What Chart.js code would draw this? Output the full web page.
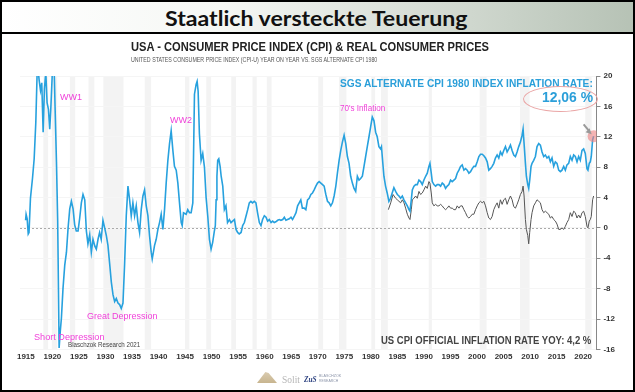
<!DOCTYPE html>
<html lang="de">
<head>
<meta charset="UTF-8">
<title>Staatlich versteckte Teuerung</title>
<script src="https://cdn.jsdelivr.net/npm/chart.js"></script>
<style>
  body { margin: 0; background: #fff; font-family: "Liberation Sans", Arial, sans-serif; }
  #page { position: relative; width: 635px; height: 392px; overflow: hidden; background: #fff; }
  canvas { position: absolute; left: 0; top: 0; }
  #head { position: absolute; left: 0; top: 0; width: 635px; height: 34px; box-sizing: border-box;
          border-bottom: 2px solid #000; background: linear-gradient(90deg, #fff 0%, #f5f7f4 35%, #b6c2b5 100%); }
  #frame { position: absolute; left: 0; top: 0; width: 635px; height: 392px; box-sizing: border-box; border: 2px solid #000; }
  .t { position: absolute; white-space: nowrap; line-height: 1; transform-origin: 0 50%; }
  .pink { color: #f03fd9; font-size: 9px; }
  #ellipse { position: absolute; left: 523px; top: 86px; width: 75px; height: 26px; box-sizing: border-box;
             border: 1px solid #eaa5a5; border-radius: 50%; }
  #mound { position: absolute; left: 257px; top: 372px; width: 20px; height: 11px;
           background: linear-gradient(180deg, #d9cbb0, #c8b58f);
           clip-path: polygon(0 100%, 42% 0, 58% 8%, 100% 100%); }
</style>
</head>
<body>
<div id="page">
  <canvas id="chart" width="635" height="392"></canvas>
  <div id="head"></div>
  <div class="t" data-x="165" data-y="17" data-w="303" style="font: 700 21px Lato, sans-serif; color:#111;">Staatlich versteckte Teuerung</div>
  <div class="t" data-x="131" data-y="47" data-w="358" style="font-weight:700; font-size:12px; color:#222;">USA - CONSUMER PRICE INDEX (CPI) &amp; REAL CONSUMER PRICES</div>
  <div class="t" data-x="131" data-y="59" data-w="246" style="font-size:7px; color:#555;">UNITED STATES CONSUMER PRICE INDEX (CPI-U) YEAR ON YEAR VS. SGS ALTERNATE CPI 1980</div>
  <div class="t" data-x="340" data-y="83" data-w="253" style="font-weight:700; font-size:10.5px; color:#2b9fd9;">SGS ALTERNATE CPI 1980 INDEX INFLATION RATE:</div>
  <div class="t" data-x="542" data-y="96" data-w="51" style="font-weight:700; font-size:15px; color:#2b9fd9;">12,06 %</div>
  <div id="ellipse"></div>
  <div class="t pink" data-x="60" data-y="97" data-w="22">WW1</div>
  <div class="t pink" data-x="170" data-y="120" data-w="22">WW2</div>
  <div class="t pink" data-x="340" data-y="108" data-w="45">70's Inflation</div>
  <div class="t pink" data-x="87" data-y="316" data-w="71">Great Depression</div>
  <div class="t pink" data-x="34" data-y="337.5" data-w="71">Short Depression</div>
  <div class="t" data-x="68" data-y="344" data-w="72" style="font-size:7px; color:#444;">Blaschzok Research 2021</div>
  <div class="t" data-x="381" data-y="341" data-w="210" style="font-weight:700; font-size:10px; color:#444;">US CPI OFFICIAL INFLATION RATE YOY: 4,2 %</div>
  <div id="mound"></div>
  <div class="t" data-x="282" data-y="379" data-w="18" style="font: 10px 'Liberation Serif', serif; color:#b5b5b5;">Solit</div>
  <div class="t" data-x="304" data-y="379" data-w="13" style="font: italic 700 9px 'Liberation Serif', serif; color:#2d4280;">ZuS</div>
  <div class="t" data-x="319" data-y="376" data-w="22" style="font-size:4px; color:#8a93a8;">BLASCHZOK</div>
  <div class="t" data-x="319" data-y="381" data-w="19" style="font-size:4px; color:#8a93a8;">RESEARCH</div>
  <div id="frame"></div>
</div>

<script>
// Blue: official CPI until 1983, then SGS alternate CPI (1980 method), % YoY
const cpiYears = [
  1914.95, 1915.05, 1915.25, 1915.45, 1915.6, 1915.87, 1916.25, 1916.57, 1916.88, 1917.13,
  1917.3, 1917.5, 1917.76, 1918.0, 1918.26, 1918.5, 1918.76, 1919.0, 1919.26, 1919.5,
  1919.7, 1920.0, 1920.3, 1920.5, 1920.77, 1921.0, 1921.27, 1921.5, 1921.7, 1922.0,
  1922.33, 1922.65, 1922.96, 1923.27, 1923.58, 1923.9, 1924.2, 1924.5, 1924.84, 1925.15,
  1925.46, 1925.77, 1926.1, 1926.4, 1926.7, 1927.03, 1927.34, 1927.65, 1928.0, 1928.28,
  1928.6, 1928.9, 1929.2, 1929.53, 1929.85, 1930.16, 1930.47, 1930.79, 1931.1, 1931.42,
  1931.73, 1932.04, 1932.36, 1932.67, 1932.98, 1933.3, 1933.6, 1933.92, 1934.24, 1934.55,
  1934.86, 1935.17, 1935.49, 1935.8, 1936.12, 1936.43, 1936.74, 1937.06, 1937.37, 1937.68,
  1938.0, 1938.3, 1938.62, 1938.81, 1939.25, 1939.56, 1939.88, 1940.19, 1940.5, 1940.82,
  1941.13, 1941.44, 1941.76, 1942.07, 1942.38, 1942.7, 1943.0, 1943.33, 1943.64, 1943.95,
  1944.27, 1944.46, 1944.7, 1945.2, 1945.5, 1945.83, 1946.14, 1946.46, 1946.77, 1947.08,
  1947.27, 1947.46, 1947.7, 1948.02, 1948.33, 1948.65, 1948.96, 1949.28, 1949.59, 1949.9,
  1950.2, 1950.5, 1950.7, 1950.85, 1951.0, 1951.15, 1951.35, 1951.6, 1951.8, 1952.1,
  1952.4, 1952.7, 1953.0, 1953.35, 1953.65, 1953.95, 1954.3, 1954.6, 1954.9, 1955.2,
  1955.55, 1955.85, 1956.17, 1956.5, 1956.8, 1957.1, 1957.4, 1957.7, 1958.05, 1958.35,
  1958.65, 1958.99, 1959.3, 1959.6, 1959.93, 1960.25, 1960.55, 1960.87, 1961.2, 1961.5,
  1961.8, 1962.1, 1962.45, 1962.75, 1963.05, 1963.4, 1963.7, 1964.0, 1964.3, 1964.63,
  1964.95, 1965.25, 1965.56, 1965.9, 1966.2, 1966.5, 1966.8, 1967.1, 1967.44, 1967.75,
  1968.07, 1968.38, 1968.7, 1969.0, 1969.32, 1969.64, 1969.95, 1970.26, 1970.58, 1970.9,
  1971.2, 1971.52, 1971.83, 1972.14, 1972.45, 1972.77, 1973.08, 1973.4, 1973.7, 1974.02,
  1974.33, 1974.64, 1974.96, 1975.27, 1975.58, 1975.89, 1976.2, 1976.52, 1976.83, 1977.14,
  1977.46, 1977.77, 1978.08, 1978.4, 1978.71, 1979.02, 1979.33, 1979.65, 1979.96, 1980.27,
  1980.59, 1980.9, 1981.2, 1981.52, 1981.83, 1982.0, 1982.15, 1982.46, 1982.77, 1983.08,
  1983.4, 1983.71, 1984.02, 1984.34, 1984.67, 1984.99, 1985.3, 1985.61, 1985.93, 1986.24,
  1986.55, 1986.87, 1987.18, 1987.37, 1987.62, 1987.81, 1988.12, 1988.44, 1988.75, 1989.06,
  1989.38, 1989.69, 1990.0, 1990.32, 1990.63, 1990.94, 1991.13, 1991.38, 1991.57, 1991.88,
  1992.2, 1992.51, 1992.82, 1993.14, 1993.45, 1993.76, 1994.08, 1994.39, 1994.7, 1995.02,
  1995.33, 1995.65, 1995.96, 1996.27, 1996.59, 1996.9, 1997.21, 1997.53, 1997.84, 1998.15,
  1998.47, 1998.78, 1999.1, 1999.41, 1999.72, 2000.04, 2000.35, 2000.66, 2000.98, 2001.29,
  2001.6, 2001.92, 2002.22, 2002.53, 2002.85, 2003.16, 2003.47, 2003.79, 2004.1, 2004.41,
  2004.73, 2005.04, 2005.36, 2005.67, 2005.98, 2006.3, 2006.61, 2006.92, 2007.24, 2007.55,
  2007.86, 2008.18, 2008.49, 2008.68, 2008.87, 2009.12, 2009.3, 2009.56, 2009.74, 2009.93,
  2010.18, 2010.37, 2010.68, 2011.0, 2011.31, 2011.63, 2011.94, 2012.25, 2012.57, 2012.88,
  2013.19, 2013.51, 2013.82, 2014.13, 2014.45, 2014.76, 2015.07, 2015.39, 2015.7, 2016.01,
  2016.33, 2016.64, 2016.95, 2017.27, 2017.58, 2017.9, 2018.21, 2018.52, 2018.84, 2019.15,
  2019.46, 2019.78, 2020.09, 2020.4, 2020.72, 2020.9, 2021.15, 2021.34, 2021.53, 2021.78,
  2021.97
];
const cpiValues = [
  1.0, 1.8, 1.2, -0.8, -0.6, 3.9, 6.5, 9.1, 13.9, 20.5,
  21.0, 19.5, 18.1, 19.1, 12.6, 18.3, 20.5, 16.5, 15.6, 13.0,
  15.6, 20.6, 22.0, 16.1, 8.7, 0.9, -15.8, -13.5, -11.9, -8.0,
  -4.9, -3.2, 0.0, 2.5, 3.5, 2.5, 0.4, -0.4, -0.4, 1.3,
  3.3, 4.4, 3.7, -0.4, -2.1, -0.9, -3.2, -1.5, -2.4, -2.8,
  -1.5, -0.6, -1.5, 1.0, 0.0, -1.0, -2.3, -4.7, -7.1, -8.8,
  -9.7, -9.3, -9.9, -10.1, -10.6, -9.9, -4.9, 1.6, 5.5, 3.7,
  1.6, 3.3, 1.6, 2.9, 0.7, -0.6, 2.4, 4.2, 5.0, 2.9,
  1.6, -1.0, -3.2, -4.1, -2.3, -1.5, -0.2, 0.7, 1.8, -0.2,
  2.4, 5.9, 8.9, 11.1, 12.8, 10.2, 8.1, 7.6, 5.9, 3.3,
  0.7, 0.3, 2.0, 1.8, 2.4, 2.0, 2.0, 3.3, 17.6, 18.9,
  19.3, 18.0, 12.4, 8.9, 9.8, 8.0, 4.0, 1.5, -1.5, -2.8,
  -1.9, -0.5, 0.3, 3.7, 6.8, 8.9, 9.1, 8.1, 6.8, 5.5,
  2.4, 2.9, 0.7, 1.1, 0.7, 0.9, 1.1, -0.2, -0.6, -0.8,
  -0.6, 0.3, 0.7, 1.6, 2.4, 3.3, 3.5, 3.3, 3.5, 3.3,
  2.0, 0.7, 0.3, 1.1, 1.6, 1.4, 0.9, 1.1, 0.7, 0.9,
  0.7, 0.8, 1.0, 1.1, 1.0, 1.1, 1.4, 1.0, 1.1, 1.2,
  1.4, 1.1, 1.5, 2.0, 2.9, 3.3, 3.7, 2.6, 2.6, 2.4,
  3.7, 3.9, 4.4, 4.6, 5.0, 5.5, 5.9, 6.1, 5.9, 5.7,
  5.5, 4.4, 3.5, 3.3, 2.9, 3.3, 4.2, 5.5, 7.2, 8.9,
  10.2, 11.3, 12.2, 11.1, 9.4, 8.5, 6.8, 5.9, 5.2, 4.8,
  6.8, 6.3, 6.5, 6.8, 8.1, 9.4, 10.7, 12.0, 13.3, 14.6,
  14.1, 12.6, 12.0, 10.7, 10.4, 10.7, 9.4, 6.8, 5.5, 4.6,
  3.5, 3.9, 4.6, 5.3, 4.8, 4.4, 4.2, 3.9, 4.2, 3.7,
  3.3, 2.9, 2.4, 2.2, 3.7, 5.0, 5.5, 5.7, 5.7, 6.3,
  6.1, 5.7, 6.3, 6.8, 7.2, 8.1, 8.5, 7.2, 6.1, 5.7,
  5.5, 5.7, 5.7, 5.5, 5.9, 5.7, 5.2, 5.5, 5.7, 6.3,
  6.1, 6.3, 6.5, 7.2, 7.6, 8.1, 8.3, 7.6, 7.8, 7.6,
  7.2, 7.4, 7.8, 8.1, 8.1, 8.7, 9.4, 9.7, 9.7, 9.5,
  9.2, 8.7, 7.6, 7.8, 8.1, 8.5, 9.2, 9.6, 9.2, 10.0,
  9.6, 10.2, 10.7, 10.0, 10.4, 10.9, 10.2, 9.6, 9.4, 10.0,
  10.7, 11.3, 12.2, 13.0, 11.1, 8.5, 6.8, 5.7, 5.2, 6.3,
  8.1, 8.5, 8.9, 9.4, 10.7, 11.1, 10.9, 10.0, 9.4, 9.6,
  9.2, 9.4, 8.7, 9.2, 8.1, 8.7, 8.5, 7.6, 7.4, 7.6,
  8.1, 7.6, 8.3, 8.5, 9.4, 8.9, 9.6, 9.4, 8.7, 9.4,
  8.9, 10.2, 10.4, 9.8, 7.8, 7.6, 8.5, 8.7, 9.4, 11.6,
  12.06
];

// Grey: official CPI-U, % YoY
const officialYears = [
  1983.3, 1983.74, 1984.18, 1984.36, 1984.67, 1984.99, 1985.3, 1985.61, 1985.93, 1986.24,
  1986.55, 1986.87, 1987.18, 1987.37, 1987.62, 1987.81, 1988.12, 1988.44, 1988.75, 1989.06,
  1989.38, 1989.69, 1990.0, 1990.32, 1990.63, 1990.94, 1991.13, 1991.38, 1991.57, 1991.88,
  1992.2, 1992.51, 1992.82, 1993.14, 1993.45, 1993.76, 1994.08, 1994.39, 1994.7, 1995.02,
  1995.33, 1995.65, 1995.96, 1996.27, 1996.59, 1996.9, 1997.21, 1997.53, 1997.84, 1998.15,
  1998.47, 1998.78, 1999.1, 1999.41, 1999.72, 2000.04, 2000.35, 2000.66, 2000.98, 2001.29,
  2001.6, 2001.92, 2002.22, 2002.53, 2002.85, 2003.16, 2003.47, 2003.79, 2004.1, 2004.41,
  2004.73, 2005.04, 2005.36, 2005.67, 2005.98, 2006.3, 2006.61, 2006.92, 2007.24, 2007.55,
  2007.86, 2008.18, 2008.49, 2008.68, 2008.87, 2009.12, 2009.3, 2009.56, 2009.74, 2009.93,
  2010.18, 2010.37, 2010.68, 2011.0, 2011.31, 2011.63, 2011.94, 2012.25, 2012.57, 2012.88,
  2013.19, 2013.51, 2013.82, 2014.13, 2014.45, 2014.76, 2015.07, 2015.39, 2015.7, 2016.01,
  2016.33, 2016.64, 2016.95, 2017.27, 2017.58, 2017.9, 2018.21, 2018.52, 2018.84, 2019.15,
  2019.46, 2019.78, 2020.09, 2020.4, 2020.72, 2020.9, 2021.15, 2021.34, 2021.53, 2021.78,
  2021.97
];
const officialValues = [
  2.4, 3.3, 4.4, 4.4, 3.9, 3.7, 3.5, 3.3, 3.7, 3.3,
  2.6, 1.8, 1.3, 1.1, 2.4, 3.7, 3.9, 4.2, 3.9, 4.8,
  4.4, 4.6, 5.0, 5.5, 5.2, 6.1, 5.9, 4.6, 3.3, 2.9,
  3.1, 2.9, 2.9, 3.1, 2.9, 2.6, 2.4, 2.6, 2.9, 2.6,
  2.6, 2.4, 2.4, 2.9, 2.6, 2.9, 2.9, 2.4, 2.0, 1.5,
  1.3, 1.5, 1.8, 1.8, 2.4, 2.9, 3.3, 3.5, 3.3, 3.5,
  2.9, 2.0, 1.3, 1.1, 1.5, 2.4, 2.9, 3.3, 2.6, 3.7,
  3.1, 3.7, 3.9, 3.1, 3.7, 4.2, 3.7, 2.8, 2.6, 3.1,
  3.7, 4.4, 4.8, 5.5, 4.2, 1.1, -0.2, -1.0, -2.1, -0.6,
  1.1, 2.0, 2.9, 3.3, 3.7, 3.5, 3.3, 2.4, 2.0, 2.2,
  2.0, 1.8, 1.3, 1.5, 1.1, 0.9, 0.5, -0.2, -0.2, 0.0,
  -0.2, 0.2, 0.7, 1.1, 2.0, 1.5, 2.2, 2.0, 1.3, 1.7,
  1.3, 2.0, 2.2, 1.5, 0.2, 0.0, 0.9, 1.1, 1.5, 3.7,
  4.2
];

// US recessions (shaded bands), as placed in the picture
const recessionStart = [1918.3, 1919.9, 1923.3, 1926.8, 1929.6, 1937.4, 1945.0, 1949.0, 1953.7, 1957.7,
                        1960.4, 1970.1, 1974.0, 1980.1, 1981.9, 1990.9, 2000.5, 2008.1, 2020.4];
const recessionEnd   = [1919.2, 1920.9, 1924.3, 1927.9, 1933.4, 1938.6, 1945.8, 1949.9, 1954.6, 1958.5,
                        1961.3, 1971.0, 1975.4, 1980.8, 1983.2, 1991.5, 2001.8, 2009.9, 2021.6];

const xTicks = [1915, 1920, 1925, 1930, 1935, 1940, 1945, 1950, 1955, 1960, 1965,
                1970, 1975, 1980, 1985, 1990, 1995, 2000, 2005, 2010, 2015, 2020];
const yTicks = [-16, -12, -8, -4, 0, 4, 8, 12, 16, 20];

const toPoints = (xs, ys) => xs.map((x, i) => ({ x: x, y: ys[i] }));

// recession shading + dashed zero line
const backdrop = {
  id: 'backdrop',
  beforeDraw(chart) {
    const { ctx, chartArea: a, scales: { x } } = chart;
    ctx.save();
    ctx.fillStyle = '#f3f3f3';
    for (let i = 0; i < recessionStart.length; i++) {
      const x1 = Math.max(a.left, x.getPixelForValue(recessionStart[i]));
      const x2 = Math.min(a.right, x.getPixelForValue(recessionEnd[i]));
      if (x2 > x1) ctx.fillRect(x1, a.top, x2 - x1, a.bottom - a.top);
    }
    ctx.restore();
  },
  beforeDatasetsDraw(chart) {
    const { ctx, chartArea: a, scales: { y } } = chart;
    const y0 = Math.round(y.getPixelForValue(0)) + 0.5;
    ctx.save();
    ctx.strokeStyle = '#aaaaaa';
    ctx.lineWidth = 1;
    ctx.setLineDash([2, 2]);
    ctx.beginPath();
    ctx.moveTo(a.left, y0);
    ctx.lineTo(a.right, y0);
    ctx.stroke();
    ctx.restore();
  },
  afterDatasetsDraw(chart) {
    // little grey arrow pointing at the last SGS value
    const pts = chart.getDatasetMeta(0).data;
    const p = pts[pts.length - 1];
    const ctx = chart.ctx;
    ctx.save();
    ctx.strokeStyle = '#9a9a9a';
    ctx.fillStyle = '#9a9a9a';
    ctx.lineWidth = 2;
    ctx.beginPath();
    ctx.moveTo(p.x - 10, p.y - 12);
    ctx.lineTo(p.x - 5, p.y - 6);
    ctx.stroke();
    ctx.beginPath();
    ctx.moveTo(p.x - 2, p.y - 2);
    ctx.lineTo(p.x - 8, p.y - 4);
    ctx.lineTo(p.x - 4, p.y - 8);
    ctx.closePath();
    ctx.fill();
    ctx.restore();
  }
};

const tickFont = { family: '"Liberation Sans", Arial, sans-serif', size: 8, weight: 'bold' };

new Chart(document.getElementById('chart'), {
  type: 'line',
  data: {
    datasets: [
      {
        label: 'SGS Alternate CPI',
        data: toPoints(cpiYears, cpiValues),
        borderColor: '#27a1de',
        borderWidth: 1.6,
        pointRadius: c => c.dataIndex === cpiYears.length - 1 ? 6 : 0,
        pointBackgroundColor: 'rgba(236, 128, 128, 0.6)',
        pointBorderWidth: 0,
        clip: 0,
        order: 0
      },
      {
        label: 'US CPI official',
        data: toPoints(officialYears, officialValues),
        borderColor: '#555555',
        borderWidth: 1,
        pointRadius: 0,
        clip: 0,
        order: 1
      }
    ]
  },
  options: {
    responsive: false,
    animation: false,
    layout: { padding: { left: 20, top: 76, right: 17, bottom: 27 } },
    plugins: { legend: { display: false }, tooltip: { enabled: false } },
    scales: {
      x: {
        type: 'linear',
        min: 1913.9,
        max: 2022.5,
        afterBuildTicks: s => { s.ticks = xTicks.map(v => ({ value: v })); },
        ticks: { callback: v => String(v), font: tickFont, color: '#333', maxRotation: 0, autoSkip: false, padding: 3 },
        grid: { display: false, drawTicks: false },
        border: { display: false }
      },
      y: {
        position: 'right',
        min: -16,
        max: 20,
        afterBuildTicks: s => { s.ticks = yTicks.map(v => ({ value: v })); },
        ticks: { font: tickFont, color: '#333', padding: 3 },
        grid: { color: '#f5f5f5', tickColor: '#888', tickLength: 4 },
        border: { color: '#888', width: 1 }
      }
    }
  },
  plugins: [backdrop]
});

// squeeze the overlay texts to the widths they have in the picture
document.querySelectorAll('.t').forEach(el => {
  const w = el.offsetWidth, h = el.offsetHeight;
  el.style.left = el.dataset.x + 'px';
  el.style.top = (parseFloat(el.dataset.y) - h / 2) + 'px';
  el.style.transform = 'scaleX(' + (parseFloat(el.dataset.w) / w) + ')';
});
</script>
</body>
</html>
